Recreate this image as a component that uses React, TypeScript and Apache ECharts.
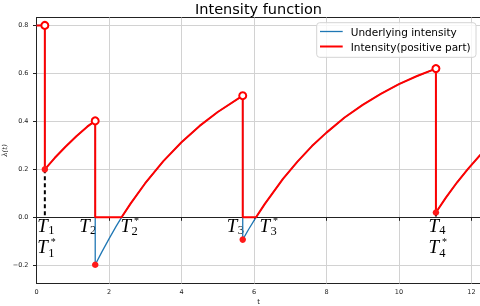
import React, { useEffect, useRef } from "react";
import * as echarts from "echarts";

// ---- axes ----
const X_MIN = 0;
const X_MAX = 12.25;
const Y_MIN = -0.276;
const Y_MAX = 0.833;
const X_TICKS = [0, 2, 4, 6, 8, 10, 12];
const Y_TICKS = [-0.2, 0, 0.2, 0.4, 0.6, 0.8];

// ---- underlying intensity ----
const INIT_T = [0, 0.23];
const INIT_L = [0.8, 0.8];
const SEG1_T = [0.23, 0.5, 0.8, 1.1, 1.4, 1.62];
const SEG1_L = [0.2, 0.247, 0.294, 0.338, 0.378, 0.402];
const SEG2_T = [1.62, 1.8, 2.0, 2.2, 2.347, 2.6, 3.0, 3.5, 4.0, 4.5, 5.0, 5.69];
const SEG2_L = [-0.198, -0.145, -0.09, -0.037, 0, 0.058, 0.142, 0.234, 0.313, 0.381, 0.439, 0.507];
const SEG3_T = [5.69, 5.85, 6.0, 6.057, 6.3, 6.8, 7.2, 7.6, 8.0, 8.5, 9.0, 9.5, 10.0, 10.5, 11.02];
const SEG3_L = [-0.093, -0.051, -0.014, 0, 0.056, 0.16, 0.232, 0.297, 0.353, 0.416, 0.469, 0.515, 0.555, 0.589, 0.62];
const SEG4_T = [11.02, 11.3, 11.6, 11.9, 12.25];
const SEG4_L = [0.02, 0.083, 0.145, 0.201, 0.261];

// ---- events ----
const EVENT_T = [0.23, 1.62, 5.69, 11.02];
const PRE_JUMP = [0.8, 0.402, 0.507, 0.62];
const POST_JUMP = [0.2, -0.198, -0.093, 0.02];

// ---- event labels ----
const LABEL_INDEX = ["1", "1", "2", "2", "3", "3", "4", "4"];
const LABEL_STAR = [false, true, false, true, false, true, false, true];
const LABEL_T = [0.23, 0.23, 1.62, 2.347, 5.69, 6.18, 11.02, 11.02];
const LABEL_ROW = [0, 1, 0, 0, 0, 0, 0, 1];
const LABEL_ALIGN = ["center", "center", "right", "left", "right", "left", "center", "center"];

const LEGEND_NAMES = ["Underlying intensity", "Intensity(positive part)"];

const zip = (ts: number[], ls: number[]) => ts.map((t, i) => [t, ls[i]]);

const UNDERLYING = [
  ...zip(INIT_T, INIT_L),
  ...zip(SEG1_T, SEG1_L),
  ...zip(SEG2_T, SEG2_L),
  ...zip(SEG3_T, SEG3_L),
  ...zip(SEG4_T, SEG4_L),
];
const POSITIVE = UNDERLYING.map(([t, l]) => [t, Math.max(l, 0)]);

const fmtY = (v: number) => (v < 0 ? "\u2212" + Math.abs(v).toFixed(1) : v.toFixed(1));

const BLUE = "#1f77b4";
const RED = "#ff0000";

export default function App() {
  const ref = useRef<HTMLDivElement>(null);

  useEffect(() => {
    if (!ref.current) return;
    const chart = echarts.init(ref.current, null, { renderer: "svg" });

    const dashedSeries = EVENT_T.map((t, i) => ({ t, v: POST_JUMP[i] }))
      .filter((e) => e.v > 0)
      .map((e) => ({
        type: "line",
        data: [
          [e.t, e.v],
          [e.t, 0],
        ],
        symbol: "none",
        lineStyle: { color: "#000", width: 2, type: [4, 3] },
        z: 4,
        silent: true,
      }));

    const option: any = {
      animation: false,
      title: {
        text: "Intensity function",
        left: 258.5,
        top: 1,
        padding: 0,
        textAlign: "center",
        textStyle: { fontFamily: "DejaVu Sans", fontSize: 14.5, fontWeight: "normal", color: "#000" },
      },
      grid: {
        left: 36.5,
        top: 17.5,
        width: 444,
        height: 266,
        show: true,
        borderColor: "#222",
        borderWidth: 1,
        containLabel: false,
        outerBoundsMode: "none",
      },
      xAxis: {
        type: "value",
        min: X_MIN,
        max: X_MAX,
        name: "t",
        nameLocation: "middle",
        nameGap: 14.5,
        nameMoveOverlap: false,
        nameTextStyle: { fontFamily: "DejaVu Sans", fontSize: 7, color: "#222" },
        axisLine: { show: true, lineStyle: { color: "#222", width: 1 } },
        axisTick: { show: true, length: 3.5, lineStyle: { color: "#222" }, customValues: X_TICKS },
        axisLabel: {
          customValues: X_TICKS,
          margin: 5,
          fontFamily: "DejaVu Sans",
          fontSize: 6.5,
          color: "#222",
          formatter: (v: number) => String(v),
        },
        splitLine: { show: false },
      },
      yAxis: {
        type: "value",
        min: Y_MIN,
        max: Y_MAX,
        name: "\u03bb(t)",
        nameLocation: "middle",
        nameRotate: 90,
        nameGap: 28,
        nameMoveOverlap: false,
        nameTextStyle: { fontFamily: "DejaVu Serif", fontStyle: "italic", fontSize: 7, color: "#222" },
        axisLine: { show: true, lineStyle: { color: "#222", width: 1 } },
        axisTick: { show: true, length: 3.5, lineStyle: { color: "#222" }, customValues: Y_TICKS },
        axisLabel: {
          customValues: Y_TICKS,
          margin: 8,
          fontFamily: "DejaVu Sans",
          fontSize: 6.5,
          color: "#222",
          formatter: fmtY,
        },
        splitLine: { show: false },
      },
      series: [
        {
          type: "line",
          data: [[X_MIN, Y_MIN]],
          symbol: "none",
          lineStyle: { opacity: 0 },
          silent: true,
          z: 0,
          markLine: {
            silent: true,
            z: 0,
            symbol: ["none", "none"],
            label: { show: false },
            lineStyle: { color: "#d2d2d2", width: 1, type: "solid" },
            data: [
              ...X_TICKS.filter((x) => x > X_MIN).map((x) => ({ xAxis: x })),
              ...Y_TICKS.filter((y) => y !== 0).map((y) => ({ yAxis: y })),
              { yAxis: 0, lineStyle: { color: "#7a7a7a", width: 1, type: "solid" } },
            ],
          },
        },
        {
          type: "line",
          name: LEGEND_NAMES[0],
          data: UNDERLYING,
          symbol: "none",
          showSymbol: false,
          lineStyle: { color: BLUE, width: 1.3 },
          itemStyle: { color: BLUE },
          z: 2,
        },
        {
          type: "line",
          name: LEGEND_NAMES[1],
          data: POSITIVE,
          symbol: "none",
          showSymbol: false,
          lineStyle: { color: RED, width: 2 },
          itemStyle: { color: RED },
          z: 3,
        },
        ...dashedSeries,
        {
          type: "scatter",
          data: zip(EVENT_T, PRE_JUMP),
          symbol: "circle",
          symbolSize: 7,
          itemStyle: { color: "#ffffff", borderColor: RED, borderWidth: 2, opacity: 1 },
          z: 5,
          silent: true,
        },
        {
          type: "scatter",
          data: zip(EVENT_T, POST_JUMP),
          symbol: "circle",
          symbolSize: 6.5,
          itemStyle: { color: "#ff1a1a", opacity: 1 },
          z: 5,
          silent: true,
        },
      ],
    };

    chart.setOption(option);

    const elements: any[] = [];

    // legend box
    const lx = 316.7;
    const ly = 22.7;
    elements.push({
      type: "rect",
      z: 10,
      silent: true,
      shape: { x: lx, y: ly, width: 159.3, height: 34.6, r: 3 },
      style: { fill: "rgba(255,255,255,0.8)", stroke: "#d4d4d4", lineWidth: 1 },
    });
    [BLUE, RED].forEach((c, i) => {
      const yy = 31.5 + 15 * i;
      elements.push({
        type: "line",
        z: 11,
        silent: true,
        shape: { x1: 320, y1: yy, x2: 342.7, y2: yy },
        style: { stroke: c, lineWidth: i === 0 ? 1.3 : 2 },
      });
      elements.push({
        type: "text",
        z: 11,
        silent: true,
        x: 350.7,
        y: yy,
        style: {
          text: LEGEND_NAMES[i],
          font: '10.5px "DejaVu Sans"',
          fill: "#000",
          align: "left",
          verticalAlign: "middle",
          textAlign: "left",
          textVerticalAlign: "middle",
        },
      });
    });

    // event labels placed through the chart's own scales
    const serifItalic = 'italic 19px "Liberation Serif", "DejaVu Serif", serif';
    const serifDigit = '12.5px "Liberation Serif", "DejaVu Serif", serif';
    const serifStar = '10px "Liberation Serif", "DejaVu Serif", serif';
    const txt = (x: number, y: number, text: string, font: string, lh: number) => ({
      type: "text",
      x,
      y,
      silent: true,
      style: {
        text,
        font,
        lineHeight: lh,
        fill: "#000",
        align: "left",
        verticalAlign: "middle",
        textAlign: "left",
        textVerticalAlign: "middle",
      },
    });
    LABEL_T.forEach((t, i) => {
      const p = chart.convertToPixel({ xAxisIndex: 0, yAxisIndex: 0 }, [t, 0]) as number[];
      const ax = p[0];
      const y0 = p[1];
      const B = y0 + 14.4 + 21.6 * LABEL_ROW[i];
      const align = LABEL_ALIGN[i];
      const left = align === "center" ? ax - 7.5 : align === "right" ? ax - 16 : ax - 1;
      const star = LABEL_STAR[i];
      elements.push(txt(left, B - 6.5, "T", serifItalic, 14));
      elements.push(txt(left + 10.9, star ? B - 0.2 : B - 1.8, LABEL_INDEX[i], serifDigit, 8));
      if (star) {
        elements.push(txt(left + 13.5, B - 11.6, "*", serifStar, 6));
      }
    });
    chart.setOption({ graphic: elements });

    return () => chart.dispose();
  }, []);

  return <div ref={ref} style={{ position: "fixed", left: 0, top: 0, width: 480, height: 306 }} />;
}
